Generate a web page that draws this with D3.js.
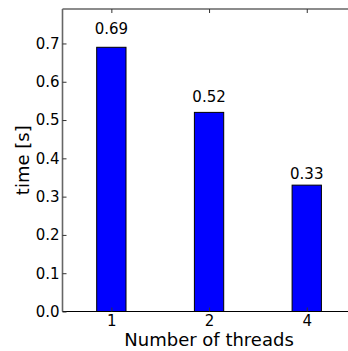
<!DOCTYPE html>
<html>
<head>
<meta charset="utf-8">
<script src="https://cdn.jsdelivr.net/npm/d3@7"></script>
<style>
  body { margin: 0; background: #fff; }
  text { font-family: "DejaVu Sans", sans-serif; fill: #000; }
</style>
</head>
<body>
<div id="chart"></div>
<script>
var threads = ["1", "2", "4"],
    times = [0.69, 0.52, 0.33],
    yTicks = [0.0, 0.1, 0.2, 0.3, 0.4, 0.5, 0.6, 0.7];

var W = 348, H = 351,
    axLeft = 62.5, axTop = 9, axBottom = 311.5,
    step = 97.7; // axis continues past the right edge (cropped)

var svg = d3.select("#chart").append("svg")
    .attr("width", W)
    .attr("height", H);

var x = d3.scaleLinear().domain([-0.5, 2.5]).range([axLeft, axLeft + 3 * step]),
    y = d3.scaleLinear().domain([0, 0.79]).range([axBottom, axTop]);

var barW = 0.3;

// bars
svg.selectAll(".bar")
    .data(times)
  .enter().append("rect")
    .attr("class", "bar")
    .attr("x", function(d, i) { return x(i - barW / 2); })
    .attr("width", function() { return x(barW) - x(0); })
    .attr("y", function(d) { return y(d); })
    .attr("height", function(d) { return y(0) - y(d); })
    .style("fill", "#0000ff")
    .style("stroke", "#000")
    .style("stroke-width", 1);

// value labels at 1.05 * height
svg.selectAll(".val")
    .data(times)
  .enter().append("text")
    .attr("class", "val")
    .attr("x", function(d, i) { return x(i); })
    .attr("y", function(d) { return y(d * 1.05); })
    .style("text-anchor", "middle")
    .style("font-size", "15px")
    .text(function(d) { return d.toFixed(2); });

// spines
svg.append("line")
    .attr("x1", axLeft).attr("x2", axLeft)
    .attr("y1", axTop).attr("y2", axBottom)
    .style("stroke", "#666").style("stroke-width", 1.6);
svg.append("line")
    .attr("x1", axLeft).attr("x2", W)
    .attr("y1", axTop).attr("y2", axTop)
    .style("stroke", "#666").style("stroke-width", 1.6);
svg.append("line")
    .attr("x1", axLeft).attr("x2", W)
    .attr("y1", axBottom).attr("y2", axBottom)
    .style("stroke", "#000").style("stroke-width", 1);

// y axis (ticks pointing inward)
var yAxis = d3.axisLeft(y)
    .tickValues(yTicks)
    .tickSizeInner(-4)
    .tickSizeOuter(0)
    .tickPadding(3)
    .tickFormat(d3.format(".1f"));

var gy = svg.append("g")
    .attr("transform", "translate(" + axLeft + ",0)")
    .call(yAxis);
gy.select(".domain").remove();
gy.selectAll("line").style("stroke", "#333");
gy.selectAll("text").style("font-size", "15px").style("font-family", "DejaVu Sans");

// x axis bottom (ticks pointing up)
var xAxis = d3.axisBottom(x)
    .tickValues([0, 1, 2])
    .tickSizeInner(-4)
    .tickSizeOuter(0)
    .tickPadding(4)
    .tickFormat(function(d) { return threads[d]; });

var gx = svg.append("g")
    .attr("transform", "translate(0," + axBottom + ")")
    .call(xAxis);
gx.select(".domain").remove();
gx.selectAll("line").style("stroke", "#333");
gx.selectAll("text").style("font-size", "15px").style("font-family", "DejaVu Sans");

// top ticks pointing down
var gt = svg.append("g")
    .attr("transform", "translate(0," + axTop + ")")
    .call(d3.axisTop(x).tickValues([0, 1, 2]).tickSizeInner(-4).tickSizeOuter(0).tickFormat(""));
gt.select(".domain").remove();
gt.selectAll("line").style("stroke", "#333");

// axis labels
svg.append("text")
    .attr("x", (axLeft + x(2.5)) / 2)
    .attr("y", 346)
    .style("text-anchor", "middle")
    .style("font-size", "18px")
    .text("Number of threads");

svg.append("text")
    .attr("transform", "translate(29," + (axTop + axBottom) / 2 + ") rotate(-90)")
    .style("text-anchor", "middle")
    .style("font-size", "18px")
    .text("time [s]");
</script>
</body>
</html>
